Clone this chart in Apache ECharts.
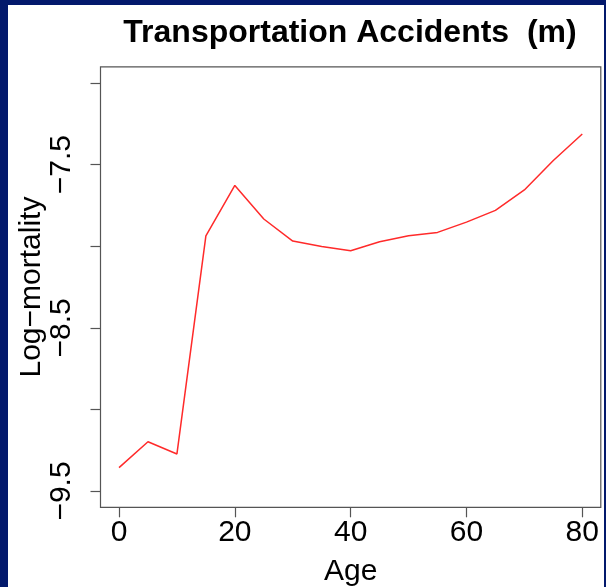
<!DOCTYPE html>
<html>
<head>
<meta charset="utf-8">
<script src="https://cdn.jsdelivr.net/npm/echarts@6/dist/echarts.min.js"></script>
<style>
  html, body { margin: 0; padding: 0; }
  body { width: 606px; height: 587px; background: #03196c; position: relative; overflow: hidden; }
  #panel { position: absolute; left: 8px; top: 5px; width: 596px; height: 582px; background: #ffffff; }
  #chart { position: absolute; left: 0; top: 0; width: 606px; height: 587px; }
</style>
</head>
<body>
<div id="panel"></div>
<div id="chart"></div>
<script>
// Log-mortality by age, transportation accidents, males
const ages = [0, 5, 10, 15, 20, 25, 30, 35, 40, 45, 50, 55, 60, 65, 70, 75, 80];
const logMortality = [-9.357, -9.198, -9.273, -7.936, -7.627, -7.833, -7.968, -8.002, -8.028,
                      -7.972, -7.936, -7.915, -7.852, -7.780, -7.655, -7.474, -7.312];

// Axis ticks and labels
const xTicks = [0, 20, 40, 60, 80];
const yTicks = [-9.5, -9, -8.5, -8, -7.5, -7];
const yLabels = [-9.5, -8.5, -7.5];

const FONT = '"Liberation Sans", Arial, Helvetica, sans-serif';
const AXIS_COLOR = '#555555';
const minus = v => String(v).replace('-', '\u2212');

const chart = echarts.init(document.getElementById('chart'), null, { renderer: 'canvas' });

chart.setOption({
  backgroundColor: 'transparent',
  animation: false,
  title: {
    text: 'Transportation Accidents  (m)',
    left: 345,
    textAlign: 'center',
    top: 12,
    textStyle: { fontFamily: FONT, fontSize: 32, fontWeight: 'bold', color: '#000' }
  },
  grid: {
    left: 100.5, top: 66.8, right: 5.2, bottom: 79.7,
    outerBoundsMode: 'none',
    show: true, borderColor: AXIS_COLOR, borderWidth: 1.2, backgroundColor: 'transparent'
  },
  xAxis: {
    type: 'value',
    min: -3.2, max: 83.2,
    name: 'Age',
    nameLocation: 'middle',
    nameGap: 49,
    nameMoveOverlap: false,
    nameTextStyle: { fontFamily: FONT, fontSize: 30, color: '#000' },
    axisLine: { show: false, onZero: false },
    splitLine: { show: false },
    axisTick: { show: true, customValues: xTicks, length: 10, lineStyle: { color: AXIS_COLOR, width: 1.2 } },
    axisLabel: { customValues: xTicks, margin: 10, fontFamily: FONT, fontSize: 30, color: '#000', formatter: minus }
  },
  yAxis: {
    type: 'value',
    min: -9.6, max: -6.9,
    name: 'Log\u2212mortality',
    nameLocation: 'middle',
    nameRotate: 90,
    nameGap: 54,
    nameMoveOverlap: false,
    nameTextStyle: { fontFamily: FONT, fontSize: 30, color: '#000' },
    axisLine: { show: false, onZero: false },
    splitLine: { show: false },
    axisTick: { show: true, customValues: yTicks, length: 10, lineStyle: { color: AXIS_COLOR, width: 1.2 } },
    axisLabel: { customValues: yLabels, rotate: 90, margin: 23.5, fontFamily: FONT, fontSize: 30, color: '#000', formatter: minus }
  },
  series: [{
    type: 'line',
    data: ages.map((a, i) => [a, logMortality[i]]),
    symbol: 'none',
    lineStyle: { color: '#ff2a2a', width: 1.5 }
  }]
});
</script>
</body>
</html>
